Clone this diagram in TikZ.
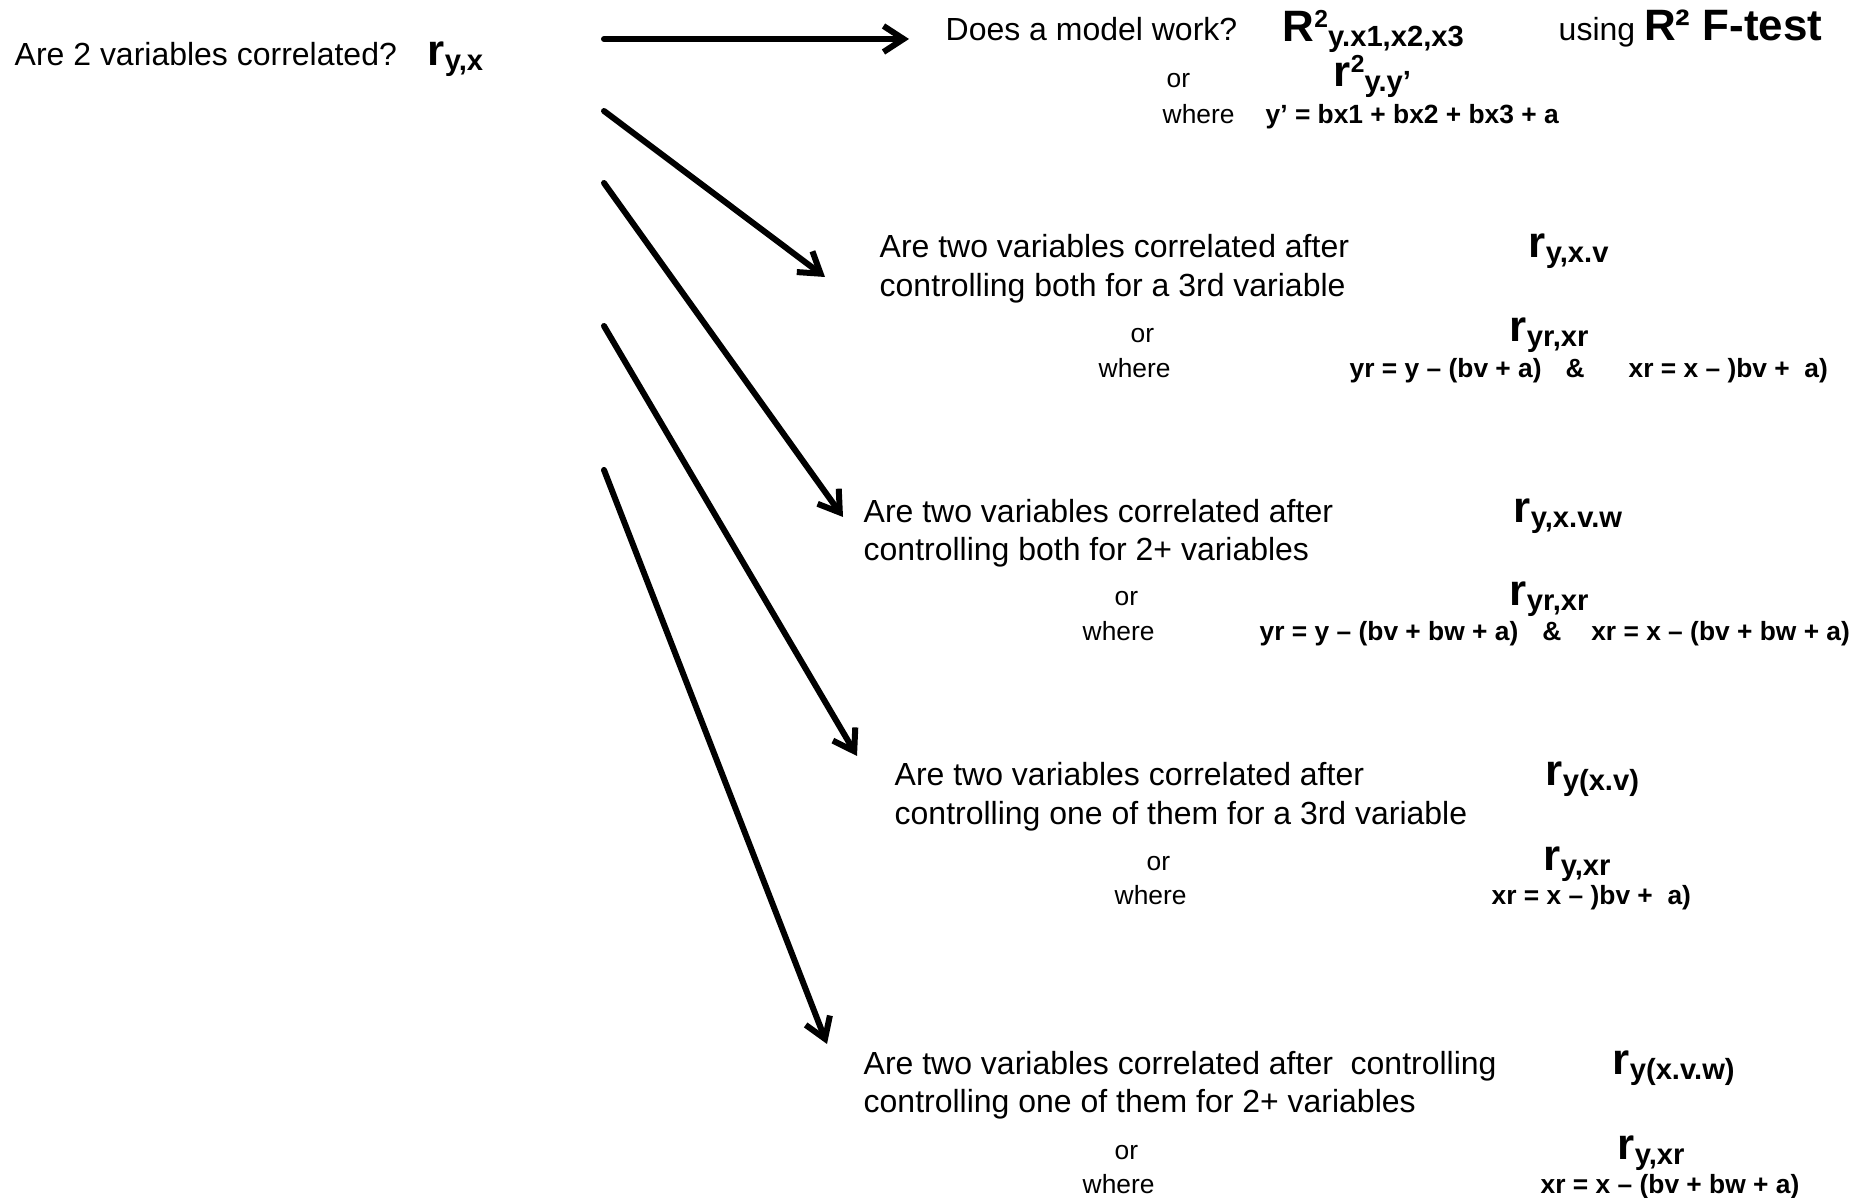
\documentclass[tikz,border=0pt]{standalone}
\usepackage{fontspec}
\setmainfont{Liberation Sans}
\usetikzlibrary{arrows.meta}

\newcommand{\bigsym}{\fontsize{12.5}{13}\selectfont\bfseries}
\newcommand{\supsym}{\fontsize{7}{8}\selectfont\bfseries}
\newcommand{\subsym}{\fontsize{8.3}{9}\selectfont\bfseries}
% symbol, superscript, subscript
\newcommand{\corr}[3]{{\bigsym #1}\raisebox{1.4mm}{\supsym #2}\raisebox{-0.5mm}{\subsym #3}}

\tikzset{
  ask/.style={anchor=base west, inner sep=0pt, font=\fontsize{9.1}{11}\selectfont},
  note/.style={anchor=base west, inner sep=0pt, font=\fontsize{7.5}{9}\selectfont},
  eqn/.style={anchor=base west, inner sep=0pt, font=\fontsize{7.5}{9}\selectfont\bfseries},
  sym/.style={anchor=base west, inner sep=0pt},
  route/.style={black, line width=0.6mm, line cap=round, line join=round,
    -{Straight Barb[length=2mm, width=2.6mm]}}
}

\begin{document}
\begin{tikzpicture}[x=0.1mm, y=-0.1mm]
    \useasboundingbox (0,0) rectangle (1875,1198);
    % Start question
    \node[ask] (q0) at (14,66) {Are 2 variables correlated?};
    \node[sym] (r0) at (427,66) {\corr{r}{}{y,x}};
    % Arrows
    \coordinate (s1) at (604,39);   \coordinate (e1) at (909,39);
    \coordinate (s2) at (604,111);  \coordinate (e2) at (825,277);
    \coordinate (s3) at (604,183);  \coordinate (e3) at (843,517);
    \coordinate (s4) at (604,326);  \coordinate (e4) at (857,756);
    \coordinate (s5) at (604,470);  \coordinate (e5) at (827,1044);
    \draw[route] (s1) -- (e1);
    \draw[route] (s2) -- (e2);
    \draw[route] (s3) -- (e3);
    \draw[route] (s4) -- (e4);
    \draw[route] (s5) -- (e5);
    % Model
    \node[ask] (q1) at (945,41) {Does a model work?};
    \node[sym] (r1) at (1282,42) {\corr{R}{2}{y.x1,x2,x3}};
    \node[ask] (t1) at (1558,41) {using {\bigsym R² F-test}};
    \node[note] (or1) at (1166,88) {or};
    \node[sym] (r1b) at (1333,87) {\corr{r}{2}{y.y’}};
    \node[note] (wh1) at (1162,124) {where};
    \node[eqn] (f1) at (1265,124) {y’ = bx1 + bx2 + bx3 + a};
    % Partial, one 3rd variable
    \node[ask] (q2) at (879,258) {Are two variables correlated after};
    \node[ask] (q2b) at (879,297) {controlling both for a 3rd variable};
    \node[sym] (r2) at (1528,258) {\corr{r}{}{y,x.v}};
    \node[note] (or2) at (1130,343) {or};
    \node[sym] (r2b) at (1509,342) {\corr{r}{}{yr,xr}};
    \node[note] (wh2) at (1098,378) {where};
    \node[eqn] (f2) at (1349,378) {yr = y – (bv + a)\hspace{2.4mm}\&\hspace{4.4mm}xr = x – )bv +\ \ a)};
    % Partial, 2+ variables
    \node[ask] (q3) at (863,523) {Are two variables correlated after};
    \node[ask] (q3b) at (863,561) {controlling both for 2+ variables};
    \node[sym] (r3) at (1513,523) {\corr{r}{}{y,x.v.w}};
    \node[note] (or3) at (1114,606) {or};
    \node[sym] (r3b) at (1509,606) {\corr{r}{}{yr,xr}};
    \node[note] (wh3) at (1082,641) {where};
    \node[eqn] (f3) at (1259,641) {yr = y – (bv + bw + a)\hspace{2.4mm}\&\hspace{3mm}xr = x – (bv + bw + a)};
    % Semipartial, one 3rd variable
    \node[ask] (q4) at (894,786) {Are two variables correlated after};
    \node[ask] (q4b) at (894,825) {controlling one of them for a 3rd variable};
    \node[sym] (r4) at (1545,786) {\corr{r}{}{y(x.v)}};
    \node[note] (or4) at (1146,871) {or};
    \node[sym] (r4b) at (1543,871) {\corr{r}{}{y,xr}};
    \node[note] (wh4) at (1114,905) {where};
    \node[eqn] (f4) at (1491,905) {xr = x – )bv +\ \ a)};
    % Semipartial, 2+ variables
    \node[ask] (q5) at (863,1074) {Are two variables correlated after\ \ controlling};
    \node[ask] (q5b) at (863,1112) {controlling one of them for 2+ variables};
    \node[sym] (r5) at (1612,1074) {\corr{r}{}{y(x.v.w)}};
    \node[note] (or5) at (1114,1159) {or};
    \node[sym] (r5b) at (1617,1159) {\corr{r}{}{y,xr}};
    \node[note] (wh5) at (1082,1193) {where};
    \node[eqn] (f5) at (1540,1193) {xr = x – (bv + bw + a)};
\end{tikzpicture}
\end{document}
